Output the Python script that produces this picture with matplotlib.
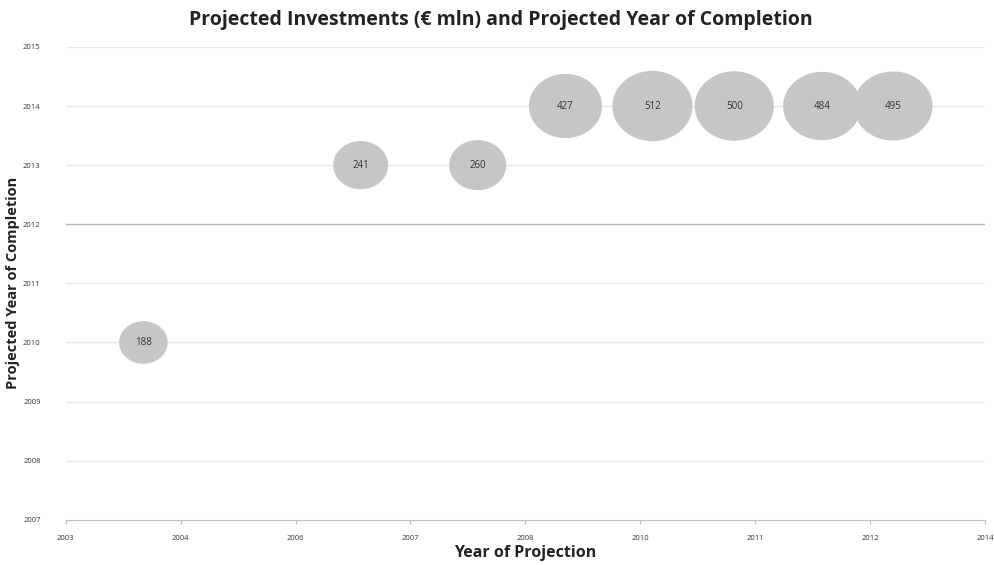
import numpy as np
import matplotlib
matplotlib.use("Agg")
from matplotlib import pyplot as plt
from matplotlib.path import Path

# bubble data
proj_year = [2003.93, 2006.53, 2007.93, 2008.98, 2010.02, 2011.0, 2012.05, 2012.9]
completion_year = [2010, 2013, 2013, 2014, 2014, 2014, 2014, 2014]
investment = [188, 241, 260, 427, 512, 500, 484, 495]

x_ticks = [2003 + k * 1.375 for k in range(9)]
x_tick_labels = ['2003', '2004', '2006', '2007', '2008', '2010', '2011', '2012', '2014']
y_ticks = [2007, 2008, 2009, 2010, 2011, 2012, 2013, 2014, 2015]

plt.rcParams['font.family'] = ['Open Sans', 'DejaVu Sans']

fig = plt.figure(figsize=(9.95, 5.65), dpi=100)
ax = fig.add_axes([0.066, 0.080, 0.924, 0.837])

# slightly wide ellipse marker, like the stretched bubbles in the source
t = np.linspace(0, 2 * np.pi, 100)
ellipse = Path(np.column_stack([1.14 * np.cos(t), np.sin(t)]))

sizes = [v * 6.5 for v in investment]
ax.scatter(proj_year, completion_year, s=sizes, marker=ellipse, color='#c6c6c6',
           edgecolors='none', zorder=3)
for x, y, v in zip(proj_year, completion_year, investment):
    ax.text(x, y, str(v), ha='center', va='center', fontsize=7, color='#333333', zorder=4)

ax.set_xlim(2003, 2014)
ax.set_ylim(2007, 2015)
ax.set_xticks(x_ticks)
ax.set_xticklabels(x_tick_labels)
ax.set_yticks(y_ticks)
ax.set_yticklabels([str(y) for y in y_ticks])

for y in y_ticks[1:]:
    c = '#b5b5b5' if y == 2012 else '#e8e8e8'
    ax.axhline(y, color=c, lw=1, zorder=1)

for s in ['left', 'right', 'top']:
    ax.spines[s].set_visible(False)
ax.spines['bottom'].set_color('#bfbfbf')
ax.tick_params(axis='x', length=3, color='#bfbfbf', labelsize=5.5, pad=8, labelcolor='#333333')
ax.tick_params(axis='y', length=0, labelsize=5.5, pad=18, labelcolor='#333333')

ax.set_xlabel('Year of Projection', fontsize=11.5, fontweight='bold', labelpad=2, color='#222222')
ax.set_ylabel('Projected Year of Completion', fontsize=10.5, fontweight='bold', labelpad=2,
              color='#222222')
fig.suptitle('Projected Investments (€ mln) and Projected Year of Completion',
             x=0.503, y=0.965, va='center', fontsize=14, fontweight='bold', color='#222222')

fig.savefig('out.png', dpi=100)
